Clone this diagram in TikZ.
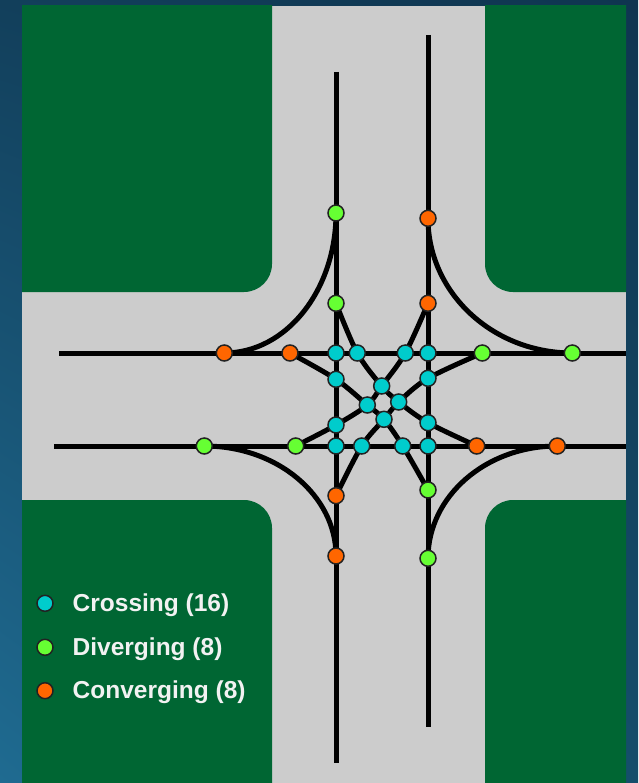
\documentclass[tikz,border=0pt]{standalone}
\usepackage{fontspec}
\setmainfont{Liberation Sans}
\usetikzlibrary{shadings}
\pgfdeclarelayer{roadlayer}
\pgfdeclarelayer{linelayer}
\pgfsetlayers{roadlayer,linelayer,main}
\definecolor{grass}{HTML}{006633}
\definecolor{asphalt}{HTML}{CCCCCC}
\definecolor{crossc}{HTML}{00CCCC}
\definecolor{divc}{HTML}{66FF33}
\definecolor{convc}{HTML}{FF6600}
\definecolor{dotedge}{HTML}{222222}
\definecolor{bgTL}{HTML}{123F5B}
\definecolor{bgTR}{HTML}{0F3550}
\definecolor{bgBL}{HTML}{1F6B91}
\definecolor{bgBR}{HTML}{154E6B}
\definecolor{legendwhite}{HTML}{F2F2F2}
\begin{document}
\begin{tikzpicture}[x=1pt,y=-1pt,
  road/.style={line width=5pt, black},
  dotbase/.style={circle, draw=dotedge, line width=1.5pt, inner sep=0pt, minimum size=16pt},
  crossdot/.style={dotbase, fill=crossc},
  divdot/.style={dotbase, fill=divc},
  convdot/.style={dotbase, fill=convc},
  legendtext/.style={text=legendwhite, font=\bfseries\fontsize{24.5}{29}\selectfont, inner sep=0pt, anchor=base west}]
\useasboundingbox (0,0) rectangle (638,783);

% ---------- background, grass and road surface ----------
\begin{pgfonlayer}{roadlayer}
  \shade[upper left=bgTL, upper right=bgTR, lower left=bgBL, lower right=bgBR] (0,0) rectangle (638,783);
  \fill[asphalt] (22,6) rectangle (626,783);
  \begin{scope}
    \clip (22,6) rectangle (626,783);
    \fill[grass, rounded corners=28] (-30,-30) rectangle (272,292);
    \fill[grass, rounded corners=28] (485,-30) rectangle (680,292);
    \fill[grass, rounded corners=28] (-30,500) rectangle (272,830);
    \fill[grass, rounded corners=28] (485,500) rectangle (680,830);
  \end{scope}
\end{pgfonlayer}

% ---------- free ends of the lanes ----------
\coordinate (vLtop) at (336,72);
\coordinate (vLbot) at (336,763);
\coordinate (vRtop) at (428,35);
\coordinate (vRbot) at (428,727);
\coordinate (hUl) at (59,353);
\coordinate (hUr) at (626,353);
\coordinate (hLl) at (54,446);
\coordinate (hLr) at (626,446);

% ---------- diverging points ----------
\node[divdot] (dN1) at (336,213) {};
\node[divdot] (dN2) at (336,303.3) {};
\node[divdot] (dS1) at (428,558.3) {};
\node[divdot] (dS2) at (428,490) {};
\node[divdot] (dW1) at (204.3,446) {};
\node[divdot] (dW2) at (295.7,446) {};
\node[divdot] (dE1) at (572.3,353) {};
\node[divdot] (dE2) at (482.3,353) {};

% ---------- converging points ----------
\node[convdot] (cN1) at (428,218.3) {};
\node[convdot] (cN2) at (428,303.3) {};
\node[convdot] (cS1) at (336,556) {};
\node[convdot] (cS2) at (336,495.7) {};
\node[convdot] (cW1) at (224.3,353) {};
\node[convdot] (cW2) at (290,353) {};
\node[convdot] (cE1) at (557.3,446) {};
\node[convdot] (cE2) at (476.7,446) {};

% ---------- crossing points ----------
\node[crossdot] (x1) at (336,353) {};
\node[crossdot] (x2) at (357.3,353) {};
\node[crossdot] (x3) at (405.3,353) {};
\node[crossdot] (x4) at (428,353) {};
\node[crossdot] (x5) at (336,379.3) {};
\node[crossdot] (x6) at (428,378.3) {};
\node[crossdot] (x7) at (381.7,386) {};
\node[crossdot] (x8) at (367.3,405) {};
\node[crossdot] (x9) at (398.7,402) {};
\node[crossdot] (x10) at (384,419.3) {};
\node[crossdot] (x11) at (336,425) {};
\node[crossdot] (x12) at (428,422.7) {};
\node[crossdot] (x13) at (336,446) {};
\node[crossdot] (x14) at (361.7,446) {};
\node[crossdot] (x15) at (402.7,446) {};
\node[crossdot] (x16) at (428,446) {};

% ---------- lanes and turning paths ----------
\begin{pgfonlayer}{linelayer}
  \draw[road] (vLtop) -- (vLbot);
  \draw[road] (vRtop) -- (vRbot);
  \draw[road] (hUl) -- (hUr);
  \draw[road] (hLl) -- (hLr);
  % right turns
  \draw[road] (dN1.center) .. controls +(0,77.3) and +(61.9,0) .. (cW1.center);
  \draw[road] (cN1.center) .. controls +(0,74.4) and +(-79.7,0) .. (dE1.center);
  \draw[road] (dW1.center) .. controls +(72.7,0) and +(0,-60.8) .. (cS1.center);
  \draw[road] (cE1.center) .. controls +(-71.4,0) and +(0,-62) .. (dS1.center);
  % left turns
  \draw[road] plot[smooth, tension=0.55] coordinates {(dN2.center) (x2.center) (x7.center) (x9.center) (x12.center) (cE2.center)};
  \draw[road] plot[smooth, tension=0.55] coordinates {(dS2.center) (x15.center) (x10.center) (x8.center) (x5.center) (cW2.center)};
  \draw[road] plot[smooth, tension=0.55] coordinates {(dW2.center) (x11.center) (x8.center) (x7.center) (x3.center) (cN2.center)};
  \draw[road] plot[smooth, tension=0.55] coordinates {(dE2.center) (x6.center) (x9.center) (x10.center) (x14.center) (cS2.center)};
\end{pgfonlayer}

% ---------- legend ----------
\node[crossdot] (lgC) at (45,603.3) {};
\node[divdot] (lgD) at (45,647.3) {};
\node[convdot] (lgV) at (45,690.7) {};
\node[legendtext] (tC) at (72.5,611.7) {Crossing (16)};
\node[legendtext] (tD) at (72.5,655) {Diverging (8)};
\node[legendtext] (tV) at (72.5,698.3) {Converging (8)};
\end{tikzpicture}
\end{document}
